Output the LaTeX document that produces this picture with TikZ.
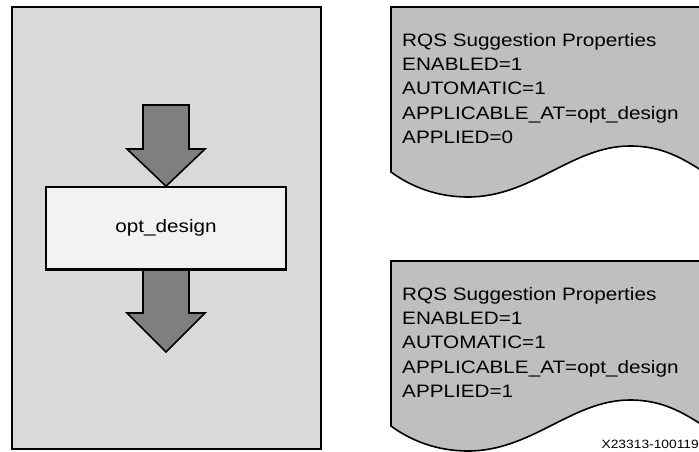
\documentclass[tikz,border=0pt]{standalone}
\usepackage{fontspec}
\setmainfont[FakeStretch=1.15]{Liberation Sans}
\usetikzlibrary{positioning}
\definecolor{panelgray}{RGB}{217,217,217}
\definecolor{boxgray}{RGB}{242,242,242}
\definecolor{arrowgray}{RGB}{127,127,127}
\definecolor{docgray}{RGB}{191,191,191}

\begin{document}
\begin{tikzpicture}[
  x=1pt, y=-1pt,
  panel/.style={rectangle, draw=black, fill=panelgray, line width=1.6pt,
                minimum width=309pt, minimum height=442pt},
  stagebox/.style={rectangle, draw=black, fill=boxgray, line width=1.6pt,
                   minimum width=240pt, minimum height=82pt,
                   font=\fontsize{18}{22}\selectfont},
  blockarr/.style={draw=black, fill=arrowgray, line width=1.6pt, line join=miter},
  docshape/.style={draw=black, fill=docgray, line width=1.6pt},
  doctext/.style={anchor=north west, inner sep=0pt, align=left,
                  font=\fontsize{18}{24.3}\selectfont},
  tag/.style={anchor=base east, inner sep=0pt, font=\fontsize{12}{14}\selectfont}
]
  \useasboundingbox (0,0) rectangle (699,452);

  % Left panel with the flow step
  \node[panel] (panel) at (166.5,228) {};
  \node[stagebox] (opt) at (166,228) {opt\_design};

  \draw[blockarr] (143,105) -- (189,105) -- (189,149) -- (205,149)
    -- (opt.north) -- (127,149) -- (143,149) -- cycle;
  \draw[blockarr] (143,269) -- (143,313) -- (127,313) -- (166,352)
    -- (205,313) -- (189,313) -- (189,269) -- cycle;
  \draw[line width=1.6pt] (opt.south west) -- (opt.south east);

  % Right — property documents
  \draw[docshape] (391,7) -- (704,7) -- (704,172)
    .. controls (682,158) and (662,146) .. (630,146)
    .. controls (572,146) and (532,197) .. (468,197)
    .. controls (436,197) and (410,186) .. (391,172) -- cycle;
  \node[doctext] (props0) at (402,33) {RQS Suggestion Properties\\ENABLED=1\\AUTOMATIC=1\\APPLICABLE\_AT=opt\_design\\APPLIED=0};

  \begin{scope}[yshift=-254pt]
    \draw[docshape] (391,7) -- (704,7) -- (704,172)
      .. controls (682,158) and (662,146) .. (630,146)
      .. controls (572,146) and (532,197) .. (468,197)
      .. controls (436,197) and (410,186) .. (391,172) -- cycle;
  \end{scope}
  \node[doctext] (props1) at (402,287) {RQS Suggestion Properties\\ENABLED=1\\AUTOMATIC=1\\APPLICABLE\_AT=opt\_design\\APPLIED=1};

  \node[tag] (figid) at (699,448) {X23313-100119};
\end{tikzpicture}
\end{document}
